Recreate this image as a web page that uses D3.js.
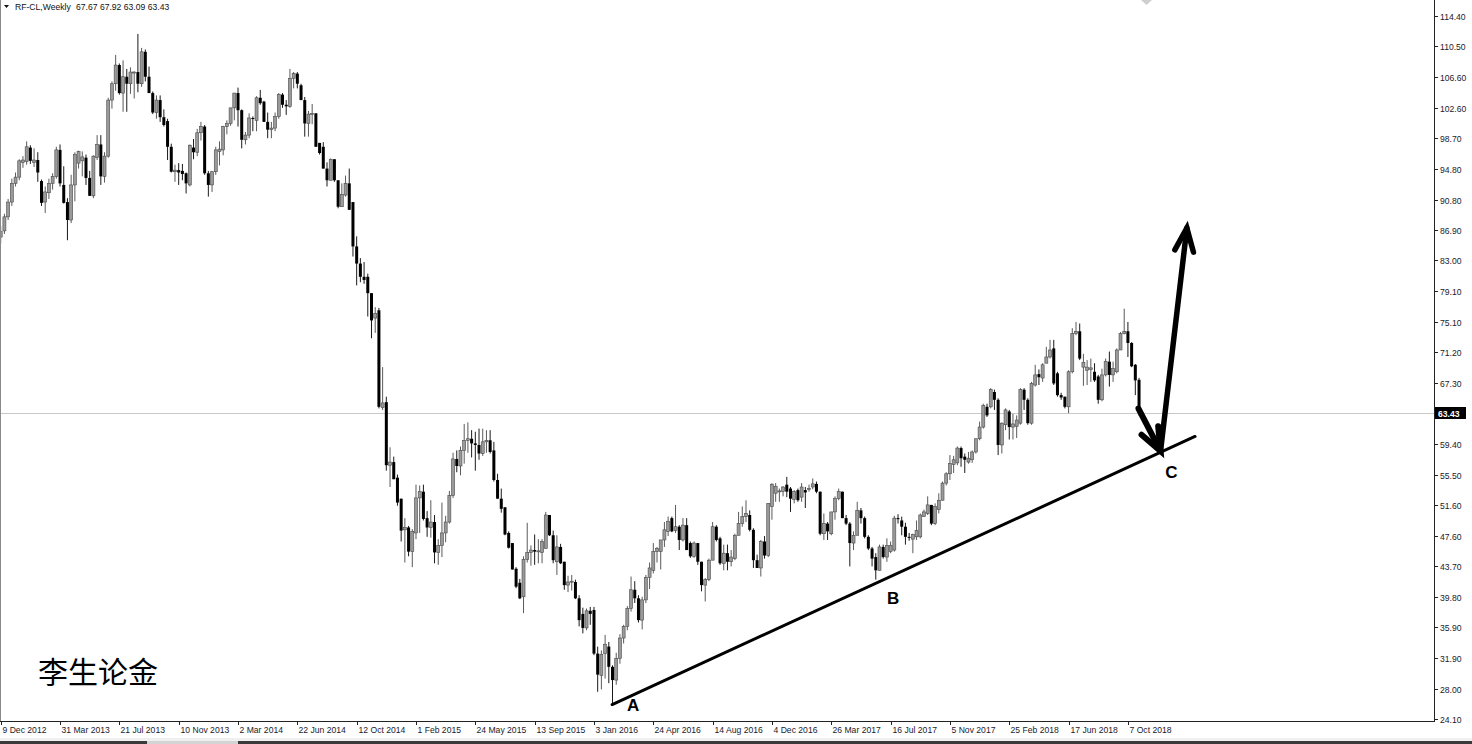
<!DOCTYPE html>
<html><head><meta charset="utf-8">
<script src="https://cdn.jsdelivr.net/npm/d3@7"></script>
<style>
html,body{margin:0;padding:0;background:#fff;}
svg{display:block;}
</style></head>
<body>
<svg id="chart" width="1472" height="744"></svg>
<script>
// ---- DATA (weekly candles, index 0 = week of 9 Dec 2012) ----
const opens = [86.0,86.8,88.6,90.5,92.9,93.7,95.6,95.7,97.5,95.6,95.9,93.2,90.5,91.7,92.9,93.8,97.2,92.7,90.5,88.2,92.7,95.5,95.8,96.2,93.6,91.3,96.2,97.9,93.8,96.4,
103.6,105.7,108.1,104.5,106.6,105.7,107.1,107.2,105.7,109.8,106.6,104.5,102.0,103.6,101.4,100.9,97.6,94.4,94.6,94.5,94.2,92.7,97.5,96.9,99.4,100.2,94.2,92.7,94.4,97.0,
97.2,100.2,100.6,102.6,104.5,102.3,98.5,99.1,101.3,101.0,103.9,103.4,100.8,99.8,100.0,101.5,104.3,103.0,102.8,106.4,107.0,105.5,103.6,100.6,101.8,101.9,98.1,97.6,94.8,93.3,
96.0,93.3,89.9,91.4,92.9,90.5,84.8,82.6,80.9,80.9,78.8,75.6,76.6,64.1,64.8,56.7,57.1,55.1,52.4,48.4,48.7,45.6,48.0,52.5,53.3,49.9,48.7,49.4,45.5,46.4,
48.0,49.4,52.8,57.5,56.6,58.6,59.9,60.1,59.5,59.3,58.2,59.7,59.9,58.6,54.8,52.4,51.3,48.0,46.7,43.4,41.6,39.8,44.6,45.5,45.8,45.6,45.5,46.0,50.3,47.7,
44.3,46.2,44.3,41.3,41.7,41.7,39.6,37.6,35.8,38.0,38.1,32.5,29.7,32.5,33.4,30.8,29.1,31.9,34.5,36.0,38.3,40.7,39.6,36.8,39.4,42.3,43.2,45.6,45.6,47.1,
48.2,49.9,48.3,48.8,47.1,49.0,46.7,45.0,46.7,44.3,41.3,42.0,44.5,48.8,47.3,44.1,45.4,44.3,44.7,47.7,49.2,50.1,50.3,48.4,44.5,43.5,46.9,45.1,51.4,53.1,
53.3,53.3,54.2,53.7,52.3,53.5,52.6,53.5,53.6,53.9,54.3,53.3,47.9,49.2,47.9,50.7,52.4,53.3,49.9,49.2,46.7,47.7,50.9,49.9,47.5,46.0,44.9,43.2,46.2,44.9,
45.6,45.8,49.9,49.6,48.8,47.5,47.2,47.5,47.5,50.1,50.5,51.6,49.2,51.0,52.2,54.4,55.6,56.8,57.0,58.9,57.8,57.1,57.4,58.4,60.1,61.6,64.2,64.2,66.1,65.1,
59.3,61.9,63.6,61.6,61.7,62.1,66.4,65.1,62.1,67.0,68.4,67.9,69.8,70.6,71.7,68.5,65.7,65.5,64.2,68.7,73.6,73.9,69.3,68.9,69.0,68.7,68.1,65.1,68.3,70.0,
68.3,68.7,71.5,73.6,73.9,72.4,69.6,67.67];
const highs = [87.4,89.0,90.9,93.5,94.3,96.0,96.4,98.3,97.8,97.4,96.9,93.4,92.5,93.5,94.2,97.6,97.9,95.1,91.0,94.0,96.9,97.1,97.0,96.6,94.5,96.5,99.1,99.1,96.9,103.9,
106.0,109.4,108.3,108.7,107.6,107.8,107.3,112.1,110.3,110.1,107.9,104.7,104.2,104.2,102.4,101.2,98.0,95.3,95.5,95.4,94.3,97.9,98.6,99.9,100.8,100.4,94.5,94.5,97.6,98.3,
100.3,101.0,102.6,104.5,105.2,102.4,99.5,101.9,101.5,104.1,104.9,103.5,102.0,100.8,102.0,104.5,104.5,103.6,107.6,107.2,107.2,105.7,104.0,102.2,103.1,101.9,98.1,98.2,95.6,96.1,
96.0,93.3,92.9,93.9,94.8,90.5,86.1,83.3,82.8,81.3,78.8,77.0,76.9,69.3,65.5,59.0,57.8,55.5,52.4,49.9,48.9,48.5,54.2,54.1,54.2,50.8,52.2,50.3,47.2,51.9,
50.2,53.4,58.3,58.6,59.1,62.0,62.2,61.2,61.0,61.4,61.4,61.2,61.2,59.7,55.6,53.7,51.3,48.2,46.7,43.6,42.1,45.0,49.3,46.4,47.8,47.2,47.2,50.7,50.3,48.3,
47.7,46.6,44.3,42.5,42.6,42.0,40.0,38.4,38.3,38.5,38.5,33.4,32.9,34.9,34.0,31.0,32.6,35.0,36.2,38.6,42.4,41.8,40.0,39.8,42.6,44.2,46.7,46.2,47.1,49.4,
50.1,50.1,51.6,49.0,49.9,49.9,46.9,46.9,46.7,44.3,42.2,44.7,49.4,49.0,47.5,46.5,46.5,45.8,47.9,50.7,51.4,52.2,50.9,48.6,45.2,47.1,47.6,51.8,54.4,54.4,
53.7,54.0,55.2,53.9,53.5,53.7,54.4,53.9,54.2,55.0,54.6,53.3,50.5,49.4,50.7,52.7,53.7,53.3,50.3,49.4,48.2,52.0,51.2,50.1,47.7,46.2,45.4,46.5,46.5,47.3,
46.9,50.2,50.4,50.1,49.3,48.0,47.9,49.6,50.5,51.0,52.7,51.6,51.8,53.1,54.6,55.8,58.0,57.9,59.1,59.1,58.2,58.4,58.6,60.1,62.3,64.6,64.6,66.6,66.4,65.3,
62.2,64.0,63.8,63.3,63.1,66.6,66.6,65.3,67.4,69.6,69.0,69.8,71.9,72.8,72.8,68.7,66.0,65.5,68.9,74.3,75.1,74.9,71.0,70.2,70.4,69.8,68.3,69.1,70.4,71.3,
70.0,71.7,73.8,76.8,75.1,72.5,69.7,67.92];
const lows = [85.2,86.4,88.2,90.0,92.5,93.3,94.9,95.3,95.4,95.0,93.1,90.0,89.1,90.9,92.1,93.5,92.5,90.3,85.6,87.8,90.6,94.8,93.8,92.7,91.3,91.0,95.9,92.7,93.0,96.2,
102.5,104.8,104.3,102.1,102.1,104.4,103.8,104.6,105.3,106.0,104.5,101.8,101.2,100.8,100.2,95.9,94.3,93.1,92.7,93.3,91.6,92.5,96.0,96.4,98.4,94.0,91.2,91.8,94.0,95.2,
96.5,99.2,100.3,101.0,100.2,97.4,97.9,98.7,99.6,99.6,103.0,100.8,98.7,98.7,99.6,101.2,102.6,101.7,102.6,105.1,105.1,103.6,98.9,98.9,100.5,97.6,96.6,94.8,92.5,93.3,
93.1,89.7,89.9,91.2,89.5,83.5,79.8,80.2,80.0,75.8,73.0,73.7,64.0,63.8,56.0,53.9,54.9,51.5,46.9,44.2,45.0,43.6,47.2,48.0,49.6,47.5,47.4,44.1,43.9,44.9,
46.8,49.2,52.5,55.8,55.4,56.9,58.3,57.7,56.0,57.4,57.9,58.3,58.2,54.6,52.4,50.6,47.7,46.0,43.3,40.9,39.5,37.7,44.2,43.8,43.9,44.1,44.1,46.0,47.6,44.1,
42.6,44.0,40.7,40.4,40.6,39.5,36.0,35.1,35.5,36.2,32.3,27.6,27.9,29.3,28.7,26.1,28.5,31.2,33.8,35.5,37.9,39.0,36.5,35.6,39.0,40.8,42.8,44.2,43.3,46.2,
47.6,48.1,48.0,45.8,46.9,45.8,44.8,44.8,43.9,40.5,39.2,41.8,44.5,46.9,43.9,43.2,43.2,43.7,44.5,47.7,48.8,49.4,48.2,43.5,43.5,42.4,44.7,44.9,49.7,52.0,
52.0,52.7,52.6,50.7,51.8,52.0,52.0,51.2,53.3,53.6,53.1,47.7,47.1,47.1,47.7,49.7,52.2,49.9,49.0,43.7,45.8,47.7,49.2,47.3,45.8,43.7,42.0,43.2,44.7,44.3,
45.4,45.6,49.2,47.7,46.5,47.0,45.4,47.1,47.3,50.1,50.3,49.0,49.0,50.5,52.2,54.1,54.8,55.7,56.7,56.5,55.7,56.9,57.0,58.2,59.9,61.4,62.9,64.0,63.8,58.0,
58.2,61.2,60.0,60.0,60.2,61.9,63.8,61.9,61.9,66.8,67.0,67.4,69.8,70.4,67.0,65.5,65.1,64.0,63.4,68.5,73.4,70.2,66.9,67.0,67.4,67.4,64.6,64.9,68.1,66.8,
67.4,68.5,71.5,73.5,70.6,69.3,65.7,63.09];
const closes = [86.7,88.6,90.5,92.9,93.7,95.8,95.9,97.6,95.8,95.9,94.3,90.4,91.8,92.9,93.8,97.2,92.9,90.4,88.2,92.7,96.6,97.0,96.3,93.6,91.3,96.4,97.9,93.8,96.4,103.6,
105.7,108.1,104.5,106.6,105.7,107.2,107.2,105.7,109.8,106.6,104.5,102.0,103.6,101.4,100.4,97.6,94.4,94.6,94.3,94.1,92.9,97.8,96.9,99.4,100.2,94.2,92.7,94.4,97.2,97.3,
100.2,100.6,102.6,104.5,102.3,98.5,99.1,101.3,101.2,103.9,103.2,100.8,99.8,100.0,101.5,104.3,103.0,102.8,106.4,107.0,105.7,103.6,100.6,101.8,101.9,97.6,96.8,94.8,93.3,96.0,
93.3,89.9,91.5,92.9,89.5,84.8,82.6,80.9,80.5,78.8,75.3,76.2,64.2,64.7,56.7,57.1,54.9,51.9,48.3,48.7,45.6,48.2,52.5,53.3,49.8,48.7,49.4,45.5,46.4,48.0,
49.4,52.8,57.5,56.6,58.6,59.9,60.1,59.5,59.3,58.2,59.7,59.9,58.4,54.8,52.4,51.1,47.8,46.1,43.3,41.1,39.6,44.6,45.5,45.8,45.6,45.7,46.9,50.3,47.7,44.5,
46.2,44.1,41.3,41.7,41.8,39.6,36.8,35.8,38.0,37.6,32.5,29.8,32.4,33.7,30.8,29.1,31.9,34.5,36.0,38.3,40.7,39.6,36.8,39.4,42.3,43.5,45.6,46.0,47.1,48.4,
49.5,48.2,48.8,47.1,49.0,45.8,45.0,46.7,44.3,41.3,42.0,44.5,48.8,47.1,44.1,45.4,44.3,44.9,47.7,49.2,50.1,50.5,48.4,44.5,43.5,46.9,45.1,51.8,54.2,54.0,
53.4,53.9,53.3,52.4,53.3,52.2,53.9,53.2,53.7,54.3,53.3,47.9,49.2,48.2,50.7,52.4,53.3,49.9,49.2,46.7,47.7,50.9,49.9,47.5,46.0,44.7,43.2,46.2,44.9,46.4,
46.4,49.9,49.8,48.8,47.5,47.4,47.8,48.3,50.3,50.7,51.6,49.2,51.4,52.2,54.4,55.6,56.9,57.4,58.9,57.6,57.4,57.6,58.4,60.1,61.6,64.4,63.1,66.4,65.1,59.3,
62.1,63.8,61.6,62.0,62.5,66.4,65.1,62.1,67.2,68.3,68.0,69.6,70.6,71.5,67.2,65.7,65.4,64.2,68.7,73.6,73.9,70.4,69.9,69.3,69.2,67.6,65.1,68.3,70.0,68.3,
69.1,71.5,73.6,73.9,72.4,69.4,67.6,63.43];

const dateLabels = ["9 Dec 2012","31 Mar 2013","21 Jul 2013","10 Nov 2013","2 Mar 2014","22 Jun 2014","12 Oct 2014","1 Feb 2015","24 May 2015","13 Sep 2015","3 Jan 2016","24 Apr 2016","14 Aug 2016","4 Dec 2016","26 Mar 2017","16 Jul 2017","5 Nov 2017","25 Feb 2018","17 Jun 2018","7 Oct 2018"];
const dateLabelBars = [0,16,32,48,64,80,96,112,128,144,160,176,192,208,224,240,256,272,288,304];
const priceTicks = [114.40,110.50,106.60,102.60,98.70,94.80,90.80,86.90,83.00,79.10,75.10,71.20,67.30,59.40,55.50,51.60,47.60,43.70,39.80,35.90,31.90,28.00,24.10];
const lastPrice = 63.43;
const header = {symbol:"RF-CL,Weekly", ohlc:"67.67 67.92 63.09 63.43"};

// annotations in data space (bar index, price)
const trendLine = [[164.9, 25.96],[322.1, 60.39]];
const downArrow = [[306.85, 63.98],[312.8, 58.52]];
const upArrow = [[312.8, 58.52],[319.9, 87.17]];
const pointLabels = [{t:"A", i:168.9, p:25.1},{t:"B", i:239.0, p:38.9},{t:"C", i:314.1, p:55.0}];

// ---- SCALES ----
const W = 1434, H = 721;
const x = d3.scaleLinear().domain([-0.19, 386.55]).range([0, W]);
const y = d3.scaleLinear().domain([23.843, 116.455]).range([H, 0]);

const svg = d3.select("#chart");
const font = "'Liberation Sans', Arial, sans-serif";

// bottom window strip
svg.append("rect").attr("x",0).attr("y",738).attr("width",1472).attr("height",3).attr("fill","#f0f0f0");
svg.append("rect").attr("x",0).attr("y",741).attr("width",147).attr("height",3).attr("fill","#3a3a3a");
svg.append("rect").attr("x",147).attr("y",741).attr("width",91).attr("height",3).attr("fill","#d4d4d4");
svg.append("rect").attr("x",238).attr("y",741).attr("width",1234).attr("height",3).attr("fill","#3a3a3a");

// last price line
svg.append("line").attr("x1",0).attr("x2",W).attr("y1",Math.round(y(lastPrice))+0.5).attr("y2",Math.round(y(lastPrice))+0.5)
  .attr("stroke","#c8c8c8").attr("stroke-width",1);

// candles
const data = closes.map((c,i)=>({i, o:opens[i], h:highs[i], l:lows[i], c}));
const g = svg.append("g");
g.selectAll("line.wick").data(data).join("line")
  .attr("x1",d=>x(d.i)).attr("x2",d=>x(d.i))
  .attr("y1",d=>y(d.h)).attr("y2",d=>y(d.l))
  .attr("stroke",d=>d.c>=d.o?"#5a5a5a":"#1a1a1a").attr("stroke-width",1);
g.selectAll("rect.body").data(data).join("rect")
  .attr("x",d=>x(d.i)-1.5).attr("width",3)
  .attr("y",d=>y(Math.max(d.o,d.c)))
  .attr("height",d=>Math.max(1, Math.abs(y(d.o)-y(d.c))))
  .attr("fill",d=>d.c>=d.o?"#9a9a9a":"#000")
  .attr("stroke",d=>d.c>=d.o?"#4a4a4a":"none").attr("stroke-width",0.6);

// trendline
svg.append("line")
  .attr("x1",x(trendLine[0][0])).attr("y1",y(trendLine[0][1]))
  .attr("x2",x(trendLine[1][0])).attr("y2",y(trendLine[1][1]))
  .attr("stroke","#000").attr("stroke-width",3).attr("stroke-linecap","round");

// arrows
function arrow(seg, w){
  const x1=x(seg[0][0]), y1=y(seg[0][1]), x2=x(seg[1][0]), y2=y(seg[1][1]);
  svg.append("line").attr("x1",x1).attr("y1",y1).attr("x2",x2).attr("y2",y2)
    .attr("stroke","#000").attr("stroke-width",w).attr("stroke-linecap","round");
  const ang = Math.atan2(y1-y2, x1-x2), L = 25, a = 22*Math.PI/180;
  const p1=[x2+L*Math.cos(ang+a), y2+L*Math.sin(ang+a)], p2=[x2+L*Math.cos(ang-a), y2+L*Math.sin(ang-a)];
  svg.append("path").attr("d",`M${p1[0]},${p1[1]}L${x2},${y2}L${p2[0]},${p2[1]}`)
    .attr("fill","none").attr("stroke","#000").attr("stroke-width",w).attr("stroke-linejoin","miter").attr("stroke-linecap","round");
}
arrow(downArrow, 6);
arrow(upArrow, 5.5);

// point labels
svg.selectAll("text.pt").data(pointLabels).join("text")
  .attr("x",d=>x(d.i)).attr("y",d=>y(d.p))
  .attr("font-family",font).attr("font-weight","bold").attr("font-size",17).attr("fill","#000")
  .text(d=>d.t);

// small marker at top
svg.append("path").attr("d","M1141,0L1152,0L1146.5,5Z").attr("fill","#cfcfcf");

// frame
svg.append("line").attr("x1",0.5).attr("x2",0.5).attr("y1",0).attr("y2",H).attr("stroke","#8a8a8a");
svg.append("line").attr("x1",W+0.5).attr("x2",W+0.5).attr("y1",0).attr("y2",H+1).attr("stroke","#222");
svg.append("line").attr("x1",0).attr("x2",W+1).attr("y1",H+0.5).attr("y2",H+0.5).attr("stroke","#222");

// right axis
const ry = svg.append("g");
priceTicks.forEach(v=>{
  const yy = Math.round(y(v))+0.5;
  ry.append("line").attr("x1",W).attr("x2",W+4).attr("y1",yy).attr("y2",yy).attr("stroke","#222");
  ry.append("text").attr("x",W+6).attr("y",yy+3).attr("font-family",font).attr("font-size",8.6).attr("fill","#1a1a2a").text(v.toFixed(2));
});
// last price tag
const ly = Math.round(y(lastPrice));
svg.append("rect").attr("x",W+1).attr("y",ly-6).attr("width",31).attr("height",12).attr("fill","#000");
svg.append("text").attr("x",W+4).attr("y",ly+3.5).attr("font-family",font).attr("font-size",8.6).attr("font-weight","bold").attr("fill","#fff").text(lastPrice.toFixed(2));

// bottom axis
dateLabels.forEach((t,k)=>{
  const xx = Math.round(x(dateLabelBars[k]))+0.5;
  svg.append("line").attr("x1",xx).attr("x2",xx).attr("y1",H).attr("y2",H+4).attr("stroke","#222");
  svg.append("text").attr("x",xx+1).attr("y",733).attr("font-family",font).attr("font-size",8.6).attr("fill","#1a1a2a").text(t);
});

// header
svg.append("path").attr("d","M4,5L9,5L6.5,8Z").attr("fill","#111");
svg.append("text").attr("x",15).attr("y",10).attr("font-family",font).attr("font-size",8.6).attr("fill","#111").text(header.symbol);
svg.append("text").attr("x",76).attr("y",10).attr("font-family",font).attr("font-size",8.6).attr("fill","#111").text(header.ohlc);

// watermark
svg.append("text").attr("x",38).attr("y",683).attr("font-family","'Noto Sans CJK SC', sans-serif").attr("font-size",30).attr("fill","#000").text("李生论金");
</script>
</body></html>
